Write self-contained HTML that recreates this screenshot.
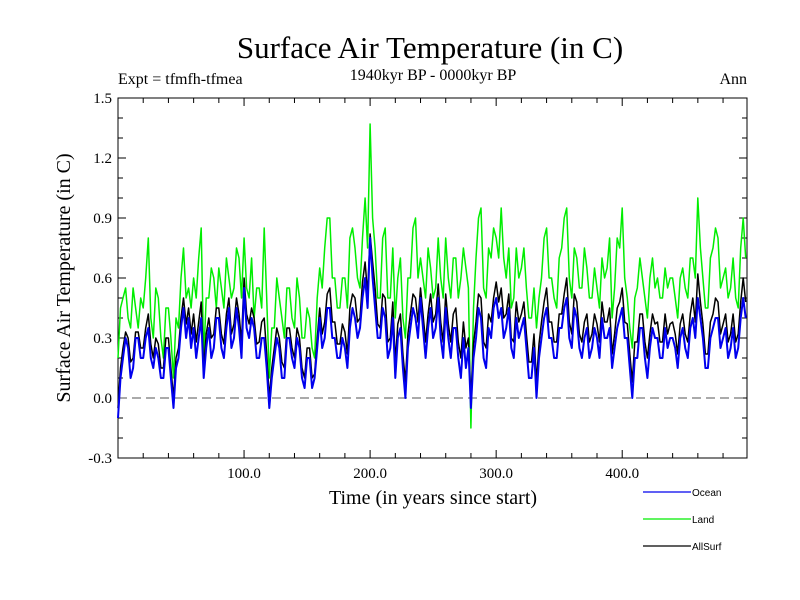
<!DOCTYPE html>
<html><head><meta charset="utf-8"><style>
html,body{margin:0;padding:0;background:#fff;}
svg{display:block;}
.serif{font-family:"Liberation Serif",serif;}
.sans{font-family:"Liberation Sans",sans-serif;}
</style></head><body>
<svg id="chart" width="800" height="600" viewBox="0 0 800 600">
<text class="serif" x="430" y="58" font-size="31" text-anchor="middle">Surface Air Temperature (in C)</text>
<text class="serif" x="118" y="84" font-size="16">Expt = tfmfh-tfmea</text>
<text class="serif" x="433" y="80" font-size="16" text-anchor="middle">1940kyr BP - 0000kyr BP</text>
<text class="serif" x="747" y="84" font-size="16" text-anchor="end">Ann</text>
<text class="serif" x="433" y="504" font-size="20" text-anchor="middle">Time (in years since start)</text>
<text class="serif" transform="translate(70,278) rotate(-90)" font-size="20" text-anchor="middle">Surface Air Temperature (in C)</text>
<g id="axes"></g>
<g id="series"></g>
<g id="legend"></g>
</svg>
<script>
const years = [];
for (let i = 0; i < 250; i++) years.push(i * 2);
const ocean = [
-0.1,0.1,0.2,0.3,0.25,0.1,0.15,0.3,0.3,0.2,
0.2,0.3,0.35,0.2,0.15,0.25,0.2,0.1,0.1,0.25,
0.25,0.1,-0.05,0.15,0.2,0.35,0.45,0.3,0.4,0.25,
0.35,0.2,0.3,0.4,0.1,0.25,0.35,0.2,0.25,0.4,
0.4,0.25,0.2,0.35,0.45,0.25,0.3,0.45,0.35,0.2,
0.55,0.35,0.3,0.4,0.35,0.2,0.2,0.3,0.3,0.15,
-0.05,0.1,0.2,0.3,0.25,0.1,0.1,0.3,0.3,0.2,
0.15,0.3,0.25,0.1,0.05,0.2,0.2,0.05,0.1,0.25,
0.4,0.25,0.3,0.45,0.45,0.3,0.3,0.2,0.2,0.3,
0.25,0.15,0.35,0.45,0.4,0.3,0.35,0.5,0.6,0.45,
0.8,0.6,0.45,0.3,0.3,0.45,0.4,0.2,0.25,0.4,
0.1,0.3,0.35,0.15,0.0,0.25,0.35,0.45,0.4,0.3,
0.5,0.35,0.2,0.35,0.45,0.3,0.35,0.5,0.3,0.2,
0.45,0.3,0.2,0.35,0.35,0.2,0.1,0.3,0.15,0.25,
-0.05,0.2,0.3,0.45,0.4,0.2,0.15,0.35,0.3,0.45,
0.5,0.4,0.45,0.3,0.35,0.45,0.25,0.2,0.4,0.3,
0.35,0.4,0.25,0.1,0.1,0.25,0.0,0.2,0.3,0.4,
0.45,0.3,0.3,0.2,0.2,0.35,0.35,0.45,0.5,0.3,
0.25,0.45,0.4,0.25,0.2,0.3,0.35,0.2,0.25,0.35,
0.3,0.2,0.4,0.3,0.3,0.35,0.15,0.25,0.35,0.4,
0.45,0.3,0.3,0.15,0.0,0.2,0.2,0.35,0.35,0.2,
0.1,0.25,0.35,0.3,0.3,0.2,0.2,0.35,0.25,0.3,
0.3,0.25,0.15,0.3,0.35,0.25,0.2,0.35,0.4,0.3,
0.5,0.4,0.3,0.15,0.15,0.3,0.35,0.4,0.4,0.25,
0.3,0.35,0.2,0.25,0.35,0.2,0.25,0.4,0.5,0.4];
const land = [
0.2,0.45,0.5,0.55,0.4,0.35,0.55,0.45,0.35,0.5,
0.45,0.6,0.8,0.4,0.3,0.55,0.5,0.3,0.2,0.45,
0.45,0.3,0.1,0.4,0.35,0.6,0.75,0.5,0.55,0.45,
0.6,0.5,0.7,0.85,0.2,0.5,0.5,0.65,0.6,0.45,
0.65,0.55,0.45,0.7,0.6,0.5,0.55,0.75,0.7,0.5,
0.8,0.55,0.5,0.7,0.4,0.55,0.55,0.45,0.85,0.5,
0.1,0.35,0.35,0.6,0.5,0.4,0.3,0.55,0.55,0.4,
0.35,0.6,0.5,0.3,0.3,0.45,0.4,0.25,0.2,0.5,
0.65,0.55,0.75,0.9,0.9,0.6,0.6,0.45,0.45,0.6,
0.6,0.45,0.8,0.85,0.75,0.6,0.55,0.8,1.0,0.75,
1.37,0.9,0.75,0.5,0.5,0.8,0.85,0.5,0.5,0.75,
0.4,0.6,0.7,0.4,0.3,0.6,0.6,0.85,0.9,0.6,
0.7,0.6,0.5,0.75,0.65,0.5,0.55,0.8,0.6,0.5,
0.8,0.6,0.5,0.7,0.7,0.5,0.6,0.75,0.65,0.55,
-0.15,0.45,0.7,0.9,0.95,0.55,0.5,0.75,0.7,0.85,
0.8,0.7,0.95,0.7,0.6,0.75,0.45,0.5,0.75,0.6,
0.65,0.75,0.55,0.4,0.4,0.55,0.35,0.5,0.6,0.8,
0.85,0.6,0.6,0.5,0.45,0.7,0.75,0.9,0.95,0.6,
0.5,0.75,0.7,0.55,0.55,0.75,0.65,0.5,0.5,0.65,
0.55,0.45,0.7,0.6,0.65,0.8,0.4,0.55,0.8,0.75,
0.95,0.6,0.5,0.35,0.25,0.5,0.55,0.7,0.6,0.5,
0.4,0.6,0.7,0.55,0.6,0.5,0.5,0.65,0.55,0.6,
0.6,0.5,0.4,0.6,0.65,0.55,0.5,0.7,0.7,0.6,
1.0,0.75,0.6,0.45,0.45,0.7,0.75,0.85,0.8,0.55,
0.6,0.65,0.5,0.55,0.7,0.5,0.45,0.75,0.9,0.7];
const allsurf = [
-0.05,0.15,0.25,0.33,0.3,0.18,0.2,0.33,0.33,0.25,
0.25,0.35,0.42,0.27,0.2,0.3,0.27,0.15,0.15,0.3,
0.3,0.15,0.0,0.2,0.25,0.4,0.5,0.37,0.45,0.32,
0.42,0.28,0.38,0.48,0.15,0.32,0.4,0.3,0.32,0.45,
0.45,0.32,0.27,0.42,0.5,0.32,0.37,0.5,0.42,0.28,
0.6,0.42,0.37,0.45,0.4,0.27,0.28,0.38,0.4,0.22,
0.0,0.15,0.25,0.35,0.3,0.18,0.15,0.35,0.35,0.25,
0.2,0.35,0.3,0.15,0.1,0.25,0.25,0.1,0.12,0.3,
0.45,0.32,0.38,0.52,0.55,0.38,0.38,0.27,0.27,0.37,
0.33,0.22,0.45,0.52,0.5,0.38,0.4,0.58,0.68,0.52,
0.82,0.68,0.55,0.37,0.35,0.52,0.5,0.28,0.3,0.48,
0.18,0.37,0.42,0.22,0.08,0.32,0.42,0.52,0.5,0.38,
0.55,0.42,0.28,0.42,0.52,0.38,0.42,0.57,0.38,0.28,
0.52,0.37,0.28,0.42,0.45,0.28,0.2,0.38,0.25,0.3,
0.0,0.27,0.38,0.52,0.5,0.28,0.25,0.42,0.38,0.5,
0.58,0.48,0.55,0.4,0.42,0.52,0.3,0.28,0.48,0.38,
0.42,0.48,0.32,0.18,0.18,0.32,0.08,0.27,0.38,0.48,
0.55,0.38,0.38,0.28,0.28,0.42,0.42,0.52,0.6,0.38,
0.32,0.52,0.48,0.32,0.28,0.38,0.42,0.28,0.32,0.42,
0.37,0.28,0.48,0.38,0.38,0.45,0.22,0.32,0.45,0.48,
0.55,0.38,0.37,0.22,0.08,0.28,0.28,0.42,0.42,0.28,
0.2,0.32,0.42,0.37,0.38,0.28,0.28,0.42,0.32,0.37,
0.38,0.32,0.22,0.37,0.42,0.32,0.28,0.42,0.5,0.38,
0.62,0.48,0.37,0.22,0.22,0.38,0.42,0.5,0.48,0.32,
0.37,0.42,0.28,0.32,0.42,0.28,0.32,0.48,0.6,0.48];
const yTickLabels = ["-0.3","0.0","0.3","0.6","0.9","1.2","1.5"];
const xTickLabels = ["100.0","200.0","300.0","400.0"];
const legendNames = ["Ocean","Land","AllSurf"];

const NS = "http://www.w3.org/2000/svg";
const L = 118, R = 747, T = 98, B = 458;
const xMin = 0, xMax = 499, yMin = -0.3, yMax = 1.5;
function xs(v){ return L + (v - xMin) / (xMax - xMin) * (R - L); }
function ys(v){ return B - (v - yMin) / (yMax - yMin) * (B - T); }
function mk(tag, attrs, parent){ const e = document.createElementNS(NS, tag); for (const k in attrs) e.setAttribute(k, attrs[k]); parent.appendChild(e); return e; }

const axes = document.getElementById("axes");
const frame = mk("rect", {x:L, y:T, width:R-L, height:B-T, fill:"none", stroke:"#000", "stroke-width":1}, axes);


for (let v = -3; v <= 15; v++) {
  const y = ys(v / 10), major = (v % 3 === 0), len = major ? 8 : 5;
  mk("line", {x1:L, x2:L+len, y1:y, y2:y, stroke:"#000"}, axes);
  mk("line", {x1:R, x2:R-len, y1:y, y2:y, stroke:"#000"}, axes);
}
yTickLabels.forEach(s => {
  const t = mk("text", {x:L-6, y:ys(parseFloat(s))+5, "font-size":15, "text-anchor":"end", class:"serif"}, axes);
  t.textContent = s;
  
  
});
for (let v = 20; v < xMax; v += 20) {
  const x = xs(v), major = (v % 100 === 0), len = major ? 8 : 5;
  mk("line", {x1:x, x2:x, y1:B, y2:B-len, stroke:"#000"}, axes);
  mk("line", {x1:x, x2:x, y1:T, y2:T+len, stroke:"#000"}, axes);
}
xTickLabels.forEach(s => {
  const t = mk("text", {x:xs(parseFloat(s)), y:B+20, "font-size":15, "text-anchor":"middle", class:"serif"}, axes);
  t.textContent = s;
  
  
});
const zl = mk("line", {x1:L, x2:R, y1:ys(0), y2:ys(0), stroke:"#555", "stroke-dasharray":"9,5", "stroke-width":1}, axes);



const series = document.getElementById("series");
function draw(vals, color, w, name){
  const d = vals.map((v,i) => (i ? "L" : "M") + xs(years[i]).toFixed(1) + "," + ys(v).toFixed(1)).join("");
  const p = mk("path", {d:d, fill:"none", stroke:color, "stroke-width":w, "stroke-linejoin":"round"}, series);
  
  
}
draw(land, "#00ee00", 1.5, "land-line");
draw(allsurf, "#000", 1.5, "allsurf-line");
draw(ocean, "#0000ee", 2, "ocean-line");

const legend = document.getElementById("legend");
const lcolors = ["#0000ee","#00ee00","#000"];
legendNames.forEach((n,i) => {
  const y = 492 + i * 27;
  const ln = mk("line", {x1:643, x2:691, y1:y, y2:y, stroke:lcolors[i], "stroke-width":1.3}, legend);
  
  
  const t = mk("text", {x:692, y:y+4, "font-size":10, class:"sans"}, legend);
  t.textContent = n;
  
  
});
</script>
</body></html>
